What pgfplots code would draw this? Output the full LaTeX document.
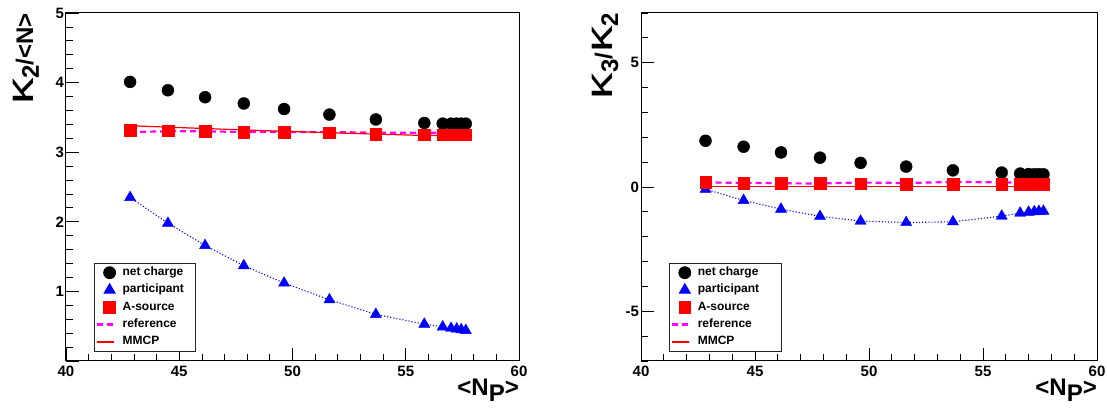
\documentclass[border=0pt]{standalone}
\usepackage{fontspec}
\setmainfont{Liberation Sans}
\usepackage{graphicx}
\usepackage{pgfplots}
\usepackage{pgfplotstable}
\pgfplotsset{compat=1.18}

\definecolor{rmag}{RGB}{255,0,255}
\definecolor{rred}{RGB}{255,0,0}
\definecolor{rblue}{RGB}{0,0,255}

\pgfplotstableread{
x      nc    pa     as    ref   mm
42.83  4.01  2.35   3.32  3.29  3.38
44.50  3.89  1.98   3.31  3.30  3.36
46.14  3.79  1.66   3.30  3.30  3.34
47.85  3.70  1.37   3.29  3.29  3.32
49.63  3.62  1.12   3.29  3.29  3.30
51.63  3.54  0.88   3.28  3.29  3.28
53.68  3.47  0.67   3.26  3.28  3.26
55.82  3.42  0.53   3.25  3.28  3.24
56.63  3.41  0.49   3.25  3.28  3.24
57.00  3.41  0.47   3.25  3.28  3.23
57.25  3.41  0.46   3.25  3.28  3.23
57.45  3.41  0.45   3.25  3.28  3.23
57.65  3.41  0.44   3.25  3.28  3.23
}\kaptwo

\pgfplotstableread{
x      nc    pa     as    ref   mm
42.83  1.86  -0.09  0.20  0.18  0.01
44.50  1.62  -0.54  0.16  0.17  0.01
46.14  1.39  -0.89  0.15  0.15  0.01
47.85  1.18  -1.18  0.15  0.14  0.01
49.63  0.97  -1.37  0.13  0.18  0.01
51.63  0.82  -1.43  0.12  0.16  0.01
53.68  0.67  -1.40  0.12  0.20  0.01
55.82  0.58  -1.17  0.12  0.19  0.01
56.63  0.54  -1.05  0.11  0.17  0.01
57.00  0.52  -1.01  0.11  0.16  0.01
57.25  0.51  -0.99  0.11  0.15  0.01
57.45  0.51  -0.98  0.11  0.15  0.01
57.65  0.51  -0.97  0.11  0.15  0.01
}\kapthree

\newcommand{\kap}{{\mdseries\scalebox{2.2}[1.6]{κ}}}
\newcommand{\lowsub}[1]{\raisebox{-6pt}{#1}}

% marker / line styles, ROOT look
\pgfplotsset{
  markimg/.style={legend image code/.code={\path[draw=none] (0pt,0pt) -- (17pt,0pt);
      \draw[##1] plot coordinates {(13pt,0pt)};}},
  nc/.style={only marks, mark=*, mark size=6pt, black, markimg},
  pa/.style={only marks, mark=triangle*, mark size=6.4pt, rblue, markimg},
  as/.style={only marks, mark=square*, mark size=5.8pt, rred, markimg},
  refl/.style={no marks, draw=rmag, line width=2.2pt, dash pattern=on 6pt off 4pt,
    legend image code/.code={\draw[draw=rmag, line width=2.2pt, dash pattern=on 6pt off 4pt] (0pt,0pt) -- (17pt,0pt);}},
  mml/.style={no marks, draw=rred, line width=1.2pt,
    legend image code/.code={\draw[draw=rred, line width=1.4pt] (0pt,0pt) -- (17pt,0pt);}},
  pal/.style={no marks, draw=rblue, line width=1.1pt, dotted, forget plot},
  rootstyle/.style={
    scale only axis,
    anchor=south west,
    height=348pt,
    xmin=40, xmax=60,
    xtick={40,45,50,55,60},
    minor xtick={41,42,43,44,46,47,48,49,51,52,53,54,56,57,58,59},
    tick pos=left,
    tick align=inside,
    major tick length=13pt,
    minor tick length=7pt,
    tick style={black, line width=0.8pt},
    axis line style={line width=1pt},
    /pgf/number format/assume math mode=true,
    ticklabel style={font=\fontsize{15}{15}\selectfont\bfseries},
    xticklabel style={yshift=-1.5pt},
    yticklabel style={xshift=1.6pt},
    label style={font=\fontsize{24}{24}\selectfont\bfseries, inner sep=0pt},
    xlabel style={at={(rel axis cs:1,0)}, anchor=base east, yshift=-35pt},
    ylabel style={anchor=base east},
    legend cell align=left,
    legend style={
      at={(0.061,0.026)}, anchor=south west,
      draw=black!85, line width=0.8pt, fill=white,
      inner xsep=1.5pt, inner ysep=1pt,
      column sep=7pt, row sep=0pt,
      font=\fontsize{12}{12}\selectfont\bfseries,
      nodes={text height=9pt, text depth=3pt, inner ysep=2.65pt, inner xsep=0pt},
    },
  }
}

\begin{document}
\begin{tikzpicture}
\useasboundingbox (0pt,0pt) rectangle (1107pt,419pt);

\begin{axis}[rootstyle,
  at={(66pt,58pt)}, width=453pt,
  ymin=0, ymax=5,
  ytick={0,1,2,3,4,5}, yticklabels={,1,2,3,4,5},
  minor ytick={0.2,0.4,0.6,0.8,1.2,1.4,1.6,1.8,2.2,2.4,2.6,2.8,3.2,3.4,3.6,3.8,4.2,4.4,4.6,4.8},
  xlabel={<N\lowsub{P}>},
  ylabel={\kap\lowsub{2}/<N>},
  ylabel style={at={([xshift=-33pt]rel axis cs:0,1)}},
]
\addplot[nc] table[x=x, y=nc] {\kaptwo};
\addlegendentry{net charge}
\addplot[pal] table[x=x, y=pa] {\kaptwo};
\addplot[pa] table[x=x, y=pa] {\kaptwo};
\addlegendentry{participant\rule{10pt}{0pt}}
\addplot[as] table[x=x, y=as] {\kaptwo};
\addlegendentry{A-source}
\addplot[refl] table[x=x, y=ref] {\kaptwo};
\addlegendentry{reference}
\addplot[mml] table[x=x, y=mm] {\kaptwo};
\addlegendentry{MMCP}
\end{axis}

\begin{axis}[rootstyle,
  at={(641pt,58pt)}, width=456pt,
  ymin=-7, ymax=7,
  ytick={-5,0,5},
  minor ytick={-7,-6,-4,-3,-2,-1,1,2,3,4,6,7},
  xlabel={<N\lowsub{P}>},
  ylabel={\kap\lowsub{3}/\kap\lowsub{2}},
  ylabel style={at={([xshift=-29pt]rel axis cs:0,1)}},
]
\addplot[nc] table[x=x, y=nc] {\kapthree};
\addlegendentry{net charge}
\addplot[pal] table[x=x, y=pa] {\kapthree};
\addplot[pa] table[x=x, y=pa] {\kapthree};
\addlegendentry{participant\rule{21pt}{0pt}}
\addplot[as] table[x=x, y=as] {\kapthree};
\addlegendentry{A-source}
\addplot[refl] table[x=x, y=ref] {\kapthree};
\addlegendentry{reference}
\addplot[mml] table[x=x, y=mm] {\kapthree};
\addlegendentry{MMCP}
\end{axis}
\end{tikzpicture}
\end{document}
